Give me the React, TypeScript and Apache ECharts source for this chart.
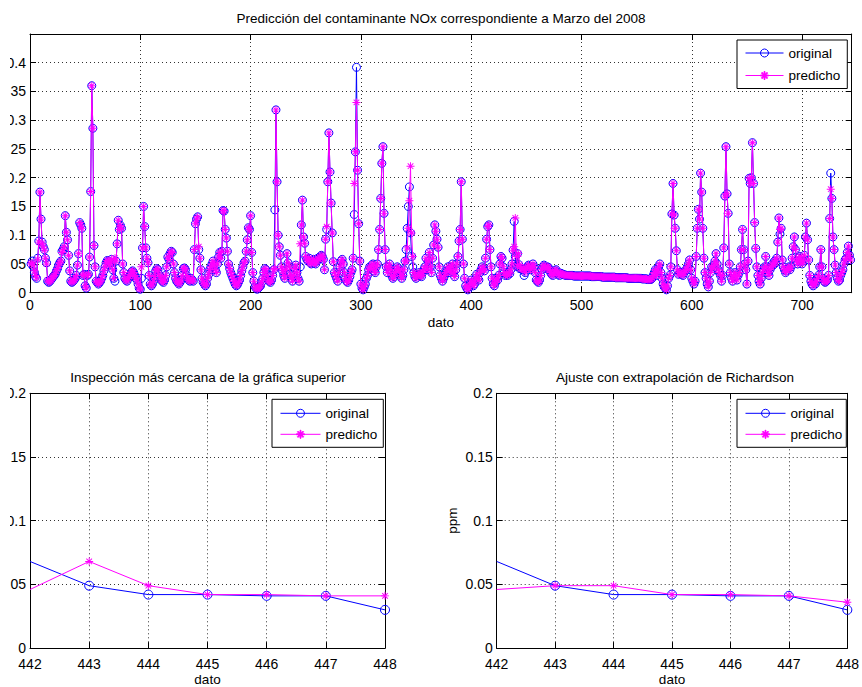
import React, { useEffect, useRef } from "react";
import * as echarts from "echarts";

// NOx, marzo 2008, valores horarios en ppb (ppm x 1000), 31 días x 24 horas
const originalPpb: number[] = [
  50, 55, 45, 35, 28, 25, 60, 90, 175, 128, 88, 80, 75, 60, 52, 20, 18, 20, 22, 25, 28, 30, 33, 38,
  42, 48, 52, 55, 72, 75, 80, 134, 105, 92, 65, 38, 20, 18, 20, 22, 25, 30, 48, 68, 122, 118, 112, 30,
  32, 12, 8, 30, 32, 62, 176, 360, 286, 82, 45, 20, 18, 15, 18, 20, 25, 30, 38, 45, 52, 56, 55, 48,
  52, 58, 40, 25, 20, 55, 85, 126, 110, 117, 112, 50, 35, 25, 22, 20, 25, 28, 32, 36, 38, 35, 30, 25,
  22, 15, 8, 6, 25, 78, 150, 115, 78, 60, 52, 30, 15, 12, 15, 20, 28, 38, 42, 40, 32, 28, 22, 20,
  18, 22, 30, 45, 62, 58, 68, 72, 70, 50, 35, 25, 20, 18, 15, 18, 22, 30, 42, 43, 40, 30, 25, 22,
  20, 25, 22, 20, 75, 120, 128, 132, 75, 60, 40, 25, 18, 15, 12, 15, 25, 32, 40, 45, 50, 55, 48, 40,
  35, 50, 62, 70, 60, 72, 143, 142, 110, 95, 72, 50, 42, 35, 30, 25, 20, 15, 12, 14, 18, 22, 30, 38,
  45, 52, 55, 72, 92, 113, 110, 134, 70, 35, 20, 10, 8, 6, 8, 10, 12, 18, 25, 35, 42, 40, 30, 22,
  20, 18, 22, 30, 40, 144, 318, 193, 100, 80, 65, 45, 38, 30, 25, 40, 68, 52, 45, 32, 25, 20, 30, 42,
  48, 35, 25, 20, 45, 118, 161, 97, 86, 63, 58, 55, 60, 52, 50, 55, 58, 52, 50, 55, 60, 58, 62, 65,
  63, 58, 40, 93, 110, 193, 278, 210, 156, 104, 54, 35, 30, 25, 20, 35, 45, 55, 58, 50, 35, 25, 20, 18,
  22, 28, 35, 40, 60, 136, 245, 392, 213, 120, 55, 15, 8, 5, 10, 15, 25, 30, 40, 45, 42, 48, 50, 38,
  35, 45, 50, 75, 110, 164, 225, 254, 138, 75, 45, 35, 45, 50, 40, 30, 25, 28, 35, 40, 45, 42, 38, 30,
  25, 30, 40, 55, 75, 112, 150, 184, 104, 63, 45, 35, 28, 25, 30, 32, 35, 30, 28, 35, 40, 45, 60, 40,
  55, 70, 45, 35, 60, 83, 118, 107, 93, 79, 45, 30, 25, 20, 25, 30, 35, 38, 45, 40, 35, 45, 50, 35,
  28, 40, 50, 63, 90, 110, 193, 93, 50, 25, 12, 8, 5, 10, 15, 22, 18, 12, 15, 25, 32, 25, 22, 35,
  40, 45, 42, 38, 60, 93, 115, 118, 75, 45, 25, 15, 12, 18, 25, 22, 30, 50, 63, 60, 45, 35, 30, 32,
  30, 35, 33, 40, 50, 74, 124, 63, 46, 68, 49, 42, 42, 41, 41, 30, 35, 42, 45, 48, 44, 40, 45, 50,
  45, 35, 22, 20, 18, 22, 30, 40, 45, 48, 45, 42, 45, 44, 40, 35, 32, 30, 35, 38, 40, 35, 32, 30,
  34, 33, 32, 31, 31, 30, 30, 30, 30, 30, 30, 30, 29, 29, 29, 29, 29, 29, 29, 29, 29, 29, 29, 29,
  29, 29, 29, 29, 28, 28, 28, 28, 28, 28, 28, 28, 28, 28, 27, 27, 27, 27, 27, 27, 27, 27, 27, 27,
  27, 27, 26, 26, 26, 26, 26, 26, 26, 26, 26, 26, 26, 25, 25, 25, 25, 25, 25, 25, 25, 25, 25, 25,
  25, 25, 24, 24, 24, 24, 24, 23, 23, 23, 23, 25, 30, 35, 40, 30, 38, 45, 50, 35, 25, 15, 10, 8,
  5, 12, 25, 30, 45, 137, 190, 135, 112, 73, 40, 32, 35, 35, 32, 30, 35, 38, 40, 45, 50, 57, 40, 25,
  20, 15, 20, 63, 112, 145, 128, 208, 175, 112, 60, 35, 25, 15, 10, 20, 35, 45, 42, 48, 55, 68, 50, 40,
  35, 30, 20, 30, 78, 168, 254, 172, 138, 50, 35, 25, 20, 30, 35, 28, 22, 30, 35, 45, 75, 110, 75, 50,
  40, 15, 55, 199, 190, 200, 261, 190, 122, 77, 45, 30, 20, 15, 25, 35, 40, 45, 63, 45, 35, 30, 40, 45,
  50, 48, 55, 52, 60, 88, 130, 102, 112, 57, 45, 40, 35, 38, 42, 45, 40, 45, 60, 80, 97, 75, 55, 50,
  60, 63, 55, 50, 55, 65, 97, 121, 92, 57, 30, 20, 15, 12, 18, 15, 20, 25, 30, 45, 75, 45, 25, 20,
  18, 20, 22, 30, 129, 208, 164, 97, 75, 48, 35, 25, 20, 22, 30, 35, 40, 50, 57, 60, 70, 81, 65, 57,
];

const predichoPpb: number[] = [
  50, 52, 48, 38, 30, 26, 58, 88, 175, 128, 86, 80, 74, 60, 50, 22, 18, 20, 22, 25, 28, 30, 33, 38,
  42, 48, 52, 55, 70, 75, 80, 134, 105, 92, 65, 38, 20, 18, 20, 22, 25, 30, 48, 68, 122, 118, 112, 30,
  32, 12, 8, 30, 32, 62, 176, 360, 286, 82, 45, 20, 18, 15, 18, 20, 25, 30, 38, 45, 52, 56, 55, 48,
  52, 58, 40, 25, 60, 55, 85, 126, 110, 117, 112, 50, 35, 25, 22, 20, 25, 28, 32, 36, 38, 35, 30, 25,
  22, 15, 8, 6, 45, 78, 150, 115, 78, 60, 52, 30, 15, 12, 15, 20, 28, 38, 42, 40, 32, 28, 22, 20,
  18, 22, 30, 45, 62, 58, 68, 72, 70, 50, 35, 25, 20, 18, 15, 18, 22, 30, 42, 43, 40, 30, 25, 22,
  20, 25, 22, 20, 75, 120, 128, 132, 80, 60, 40, 25, 18, 15, 12, 15, 25, 32, 40, 45, 50, 55, 48, 40,
  35, 50, 62, 70, 60, 72, 143, 142, 110, 95, 72, 50, 42, 35, 30, 25, 20, 15, 12, 14, 18, 22, 30, 38,
  45, 52, 55, 72, 92, 113, 110, 134, 70, 35, 20, 10, 8, 6, 8, 10, 12, 18, 25, 35, 42, 40, 30, 22,
  20, 18, 22, 30, 40, 42, 318, 193, 100, 80, 65, 45, 38, 30, 25, 40, 68, 52, 45, 32, 25, 20, 30, 42,
  48, 35, 25, 20, 85, 118, 161, 97, 86, 63, 58, 55, 60, 52, 50, 55, 58, 52, 50, 55, 60, 58, 62, 65,
  63, 58, 40, 93, 115, 193, 278, 210, 156, 104, 54, 35, 30, 25, 20, 35, 45, 55, 58, 50, 35, 25, 20, 18,
  22, 28, 35, 40, 60, 190, 245, 331, 213, 120, 55, 15, 8, 5, 10, 15, 25, 30, 40, 45, 42, 48, 50, 38,
  35, 45, 50, 75, 110, 164, 225, 254, 138, 75, 45, 35, 45, 50, 40, 30, 25, 28, 35, 40, 45, 42, 38, 30,
  25, 30, 40, 55, 55, 78, 112, 160, 220, 104, 63, 35, 28, 25, 30, 32, 35, 30, 28, 35, 40, 45, 60, 40,
  55, 70, 45, 35, 60, 83, 118, 107, 93, 79, 45, 30, 25, 20, 25, 30, 35, 38, 45, 40, 35, 45, 50, 35,
  28, 40, 50, 63, 90, 110, 193, 93, 50, 25, 12, 8, 5, 10, 15, 22, 18, 12, 15, 25, 32, 25, 22, 35,
  40, 45, 42, 38, 60, 93, 115, 118, 75, 45, 25, 15, 12, 18, 25, 22, 30, 50, 63, 60, 45, 35, 30, 32,
  30, 35, 33, 40, 50, 74, 80, 130, 63, 46, 68, 49, 42, 42, 41, 41, 35, 42, 45, 48, 44, 40, 45, 50,
  45, 35, 22, 20, 18, 22, 30, 40, 45, 48, 45, 42, 45, 44, 40, 35, 32, 30, 35, 38, 40, 35, 32, 30,
  34, 33, 32, 31, 31, 30, 30, 30, 30, 30, 30, 30, 29, 29, 29, 29, 29, 29, 29, 29, 29, 29, 29, 29,
  29, 29, 29, 29, 28, 28, 28, 28, 28, 28, 28, 28, 28, 28, 27, 27, 27, 27, 27, 27, 27, 27, 27, 27,
  27, 27, 26, 26, 26, 26, 26, 26, 26, 26, 26, 26, 26, 25, 25, 25, 25, 25, 25, 25, 25, 25, 25, 25,
  25, 25, 24, 24, 24, 24, 24, 23, 23, 23, 23, 25, 30, 35, 40, 30, 38, 45, 50, 35, 25, 15, 10, 8,
  5, 12, 25, 30, 45, 137, 190, 135, 112, 73, 40, 32, 35, 35, 32, 30, 35, 38, 40, 45, 50, 57, 40, 25,
  20, 15, 20, 63, 112, 145, 128, 208, 175, 112, 60, 35, 25, 15, 10, 20, 35, 45, 42, 48, 55, 68, 50, 40,
  35, 30, 20, 30, 78, 168, 254, 172, 138, 50, 35, 25, 20, 30, 35, 28, 22, 30, 35, 45, 75, 110, 75, 50,
  40, 15, 55, 199, 190, 200, 261, 190, 122, 77, 45, 30, 20, 15, 25, 35, 40, 45, 63, 45, 35, 30, 40, 45,
  50, 48, 55, 52, 60, 88, 130, 110, 112, 57, 45, 40, 35, 38, 42, 45, 40, 45, 60, 80, 97, 75, 55, 50,
  60, 63, 55, 50, 55, 65, 97, 121, 92, 57, 30, 20, 15, 12, 18, 15, 20, 25, 30, 45, 75, 45, 25, 20,
  18, 20, 22, 30, 129, 180, 164, 97, 75, 48, 35, 25, 20, 22, 30, 35, 40, 50, 57, 60, 70, 81, 65, 57,
];

// Detalle (datos 442 a 448), ppm
const detalleDatos = [442, 443, 444, 445, 446, 447, 448];
const detalleOriginal = [0.068, 0.049, 0.042, 0.042, 0.041, 0.041, 0.03];
const detallePredicho = [0.046, 0.068, 0.049, 0.042, 0.042, 0.041, 0.041];
const richardsonPredicho = [0.046, 0.049, 0.049, 0.042, 0.042, 0.041, 0.036];

const TITLE_TOP = "Predicción del contaminante NOx correspondiente a Marzo del 2008";
const TITLE_LEFT = "Inspección más cercana de la gráfica superior";
const TITLE_RIGHT = "Ajuste con extrapolación de Richardson";

const FONT = "'Liberation Sans', Arial, Helvetica, sans-serif";
const BLUE = "#0000ff";
const MAGENTA = "#ff00ff";
const ASTERISK =
  "path://M8.8 0L11.2 0L11.2 20L8.8 20Z M0 8.8L20 8.8L20 11.2L0 11.2Z M3.85 2.15L17.85 16.15L16.15 17.85L2.15 3.85Z M16.15 2.15L17.85 3.85L3.85 17.85L2.15 16.15Z";

const grids = [
  { left: 40, top: 34, width: 821.7, height: 258.7 },
  { left: 40, top: 393.3, width: 355, height: 257.4 },
  { left: 506.7, top: 393.3, width: 355, height: 257.4 },
];

const axisLineStyle = { show: true, onZero: false, lineStyle: { color: "#000", width: 1 } };
const tickStyle = { show: true, inside: true, length: 6, lineStyle: { color: "#000", width: 1 } };
const gridLine = { show: true, lineStyle: { type: [1, 3], color: "#333", width: 1 } };
const labelStyle = { fontFamily: FONT, fontSize: 14, color: "#000" };

function makeX(gridIndex: number, min: number, max: number, interval: number, margin: number) {
  return [
    {
      type: "value",
      gridIndex,
      min,
      max,
      interval,
      position: "bottom",
      name: "dato",
      nameLocation: "middle",
      nameGap: 23,
      nameTextStyle: { fontFamily: FONT, fontSize: 13.5, color: "#000" },
      axisLine: axisLineStyle,
      axisTick: tickStyle,
      axisLabel: { ...labelStyle, lineHeight: 14, margin, showMaxLabel: max % interval === 0 },
      splitLine: gridLine,
    },
    {
      type: "value",
      gridIndex,
      min,
      max,
      interval,
      position: "top",
      axisLine: axisLineStyle,
      axisTick: tickStyle,
      axisLabel: { show: false },
      splitLine: { show: false },
    },
  ];
}

function makeY(gridIndex: number, min: number, max: number, interval: number, showMax: boolean, name?: string) {
  return [
    {
      type: "value",
      gridIndex,
      min,
      max,
      interval,
      position: "left",
      name: name || "",
      nameLocation: "middle",
      nameGap: 37,
      nameTextStyle: { fontFamily: FONT, fontSize: 13.5, color: "#000" },
      axisLine: axisLineStyle,
      axisTick: tickStyle,
      axisLabel: { ...labelStyle, lineHeight: 11, margin: 4, showMaxLabel: showMax },
      splitLine: gridLine,
    },
    {
      type: "value",
      gridIndex,
      min,
      max,
      interval,
      position: "right",
      axisLine: axisLineStyle,
      axisTick: tickStyle,
      axisLabel: { show: false },
      splitLine: { show: false },
    },
  ];
}

function originalSeries(axisIndex: number, data: any[], size: number) {
  return {
    type: "line",
    name: "original",
    xAxisIndex: axisIndex,
    yAxisIndex: axisIndex,
    data,
    symbol: "circle",
    symbolSize: size,
    showAllSymbol: true,
    lineStyle: { color: BLUE, width: 1 },
    itemStyle: { color: "rgba(0,0,0,0)", borderColor: BLUE, borderWidth: 1 },
    emphasis: { disabled: true },
    silent: true,
    z: 2,
  };
}

function predichoSeries(axisIndex: number, data: any[], size: number) {
  return {
    type: "line",
    name: "predicho",
    xAxisIndex: axisIndex,
    yAxisIndex: axisIndex,
    data,
    symbol: ASTERISK,
    symbolSize: size,
    showAllSymbol: true,
    lineStyle: { color: MAGENTA, width: 1 },
    itemStyle: { color: MAGENTA, borderColor: MAGENTA, borderWidth: 0 },
    emphasis: { disabled: true },
    silent: true,
    z: 3,
  };
}

function detalle(values: number[]) {
  return detalleDatos.map((d, i) =>
    i === 0 ? { value: [d, values[i]], symbol: "none" } : [d, values[i]]
  );
}

const legendBase = {
  orient: "vertical",
  data: ["original", "predicho"],
  backgroundColor: "#fff",
  borderColor: "#000",
  borderWidth: 1,
  borderRadius: 0,
  itemHeight: 10,
  selectedMode: false,
  itemStyle: { borderWidth: 1 },
  lineStyle: { width: 1 },
  textStyle: { fontFamily: FONT, fontSize: 13.5, color: "#000" },
};

function buildOption() {
  const topOriginal = originalPpb.map((v, i) => [i + 1, v / 1000]);
  const topPredicho = predichoPpb.map((v, i) => [i + 1, v / 1000]);
  const titleStyle = (text: string) => ({
    text,
    fontFamily: FONT,
    fontSize: 13.5,
    fill: "#000",
    align: "center",
    verticalAlign: "middle",
  });
  return {
    animation: false,
    backgroundColor: "#fff",
    grid: grids,
    xAxis: [...makeX(0, 0, 745, 100, 5), ...makeX(1, 442, 448, 1, 9), ...makeX(2, 442, 448, 1, 9)],
    yAxis: [
      ...makeY(0, 0, 0.45, 0.05, false),
      ...makeY(1, 0, 0.2, 0.05, true),
      ...makeY(2, 0, 0.2, 0.05, true, "ppm"),
    ],
    legend: [
      { ...legendBase, left: 747, top: 40, itemWidth: 38, itemGap: 8.5, padding: [6, 7, 6, 8] },
      { ...legendBase, left: 282, top: 399.3, itemWidth: 40, itemGap: 7, padding: [7, 6, 6, 8] },
      { ...legendBase, left: 747, top: 399.3, itemWidth: 40, itemGap: 7, padding: [7, 4, 6, 8] },
    ],
    graphic: [
      { type: "text", x: 451, y: 18, silent: true, style: titleStyle(TITLE_TOP) },
      { type: "text", x: 218, y: 377, silent: true, style: titleStyle(TITLE_LEFT) },
      { type: "text", x: 685, y: 377, silent: true, style: titleStyle(TITLE_RIGHT) },
    ],
    series: [
      originalSeries(0, topOriginal, 8),
      predichoSeries(0, topPredicho, 8),
      originalSeries(2, detalle(detalleOriginal), 9),
      predichoSeries(2, detalle(detallePredicho), 8),
      originalSeries(4, detalle(detalleOriginal), 9),
      predichoSeries(4, detalle(richardsonPredicho), 8),
    ],
  };
}

export default function App() {
  const ref = useRef<HTMLDivElement>(null);
  useEffect(() => {
    if (!ref.current) return;
    const chart = echarts.init(ref.current, undefined, { renderer: "svg" });
    chart.setOption(buildOption() as any);
    return () => {
      chart.dispose();
    };
  }, []);
  return (
    <div
      style={{
        position: "absolute",
        left: 10,
        top: 0,
        width: 852,
        height: 687,
        overflow: "hidden",
        background: "#fff",
      }}
    >
      <div
        ref={ref}
        style={{ position: "absolute", left: -20, top: 0, width: 872, height: 687 }}
      />
    </div>
  );
}
